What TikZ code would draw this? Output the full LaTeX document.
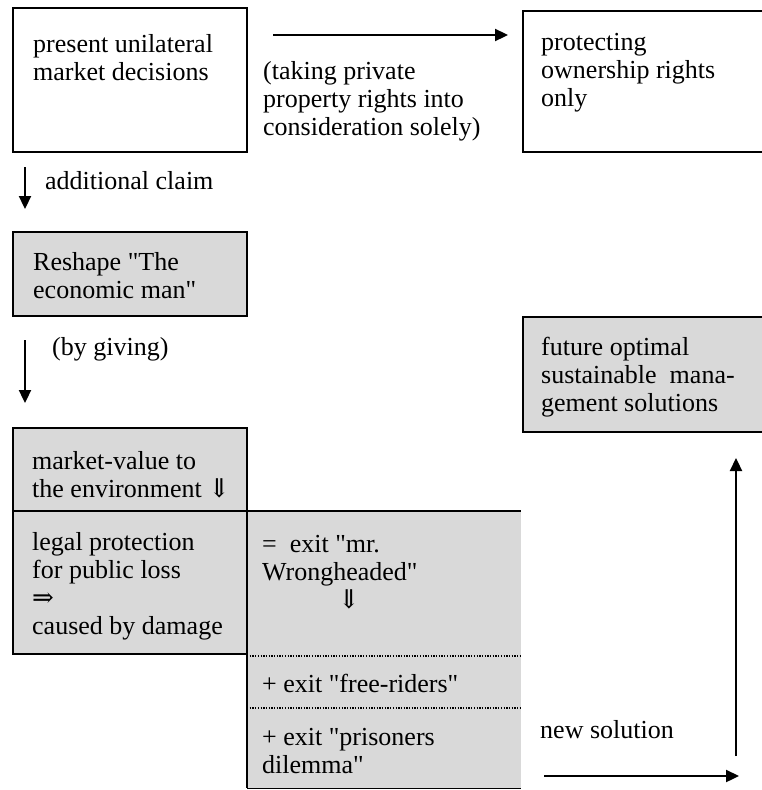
\documentclass[tikz,border=0pt]{standalone}
\usepackage{fontspec}
\setmainfont{Liberation Serif}
\newfontfamily\symf{DejaVu Serif}
\usetikzlibrary{arrows.meta}
\newcommand\fst{\rule{0pt}{20pt}}
\newcommand\qq{\textquotedbl}
\begin{document}
\begin{tikzpicture}[x=1pt,y=-1pt,
  txt/.style={anchor=north west,inner sep=0pt,align=left,font=\fontsize{26}{28}\selectfont},
  box/.style={draw=black,line width=2.5pt,anchor=north west,inner sep=0pt,outer sep=0pt},
  shaded/.style={fill=gray!30},
  arr/.style={line width=2.3pt,-{Triangle[length=13pt,width=12pt]}},
  dotline/.style={line width=1.3pt,dash pattern=on 1.3pt off 1.4pt}]
\useasboundingbox (0,0) rectangle (762,790);
\clip (0,0) rectangle (762,790);

% boxes
\node[box,minimum width=234pt,minimum height=144pt] (b1) at (13,8) {};
\node[box,minimum width=252pt,minimum height=141pt] (b2) at (523,11) {};
\node[box,shaded,minimum width=234pt,minimum height=84pt] (b3) at (13,232) {};
\node[box,shaded,minimum width=252pt,minimum height=115pt] (b4) at (523,317) {};
\node[anchor=north west,inner sep=0pt,outer sep=0pt,fill=gray!30,minimum width=274pt,minimum height=277pt] (rb) at (247,511) {};
\node[box,shaded,minimum width=234pt,minimum height=83pt] (mk) at (13,428) {};
\node[box,shaded,minimum width=234pt,minimum height=143pt] (lg) at (13,511) {};
\draw[line width=2.5pt] (lg.north east) -- (rb.north east);
\draw[line width=2.5pt] (rb.north west) -- (rb.south west);
\draw[line width=0.8pt] (rb.south west) -- (rb.south east);
\coordinate (d1a) at (247,656); \coordinate (d1b) at (521,656);
\coordinate (d2a) at (247,708); \coordinate (d2b) at (521,708);
\draw[dotline] (d1a) -- (d1b);
\draw[dotline] (d2a) -- (d2b);

% texts
\node[txt] (t1) at (33,32) {\fst present unilateral\\market decisions};
\node[txt] (t2) at (263,59) {\fst(taking private\\property rights into\\consideration solely)};
\node[txt] (t3) at (541,30) {\fst protecting\\ownership rights\\only};
\node[txt] (t4) at (45,169) {\fst additional claim};
\node[txt] (t5) at (33,250) {\fst Reshape \qq The\\economic man\qq};
\node[txt] (t6) at (52,335) {\fst(by giving)};
\node[txt] (t7) at (541,335) {\fst future optimal\\sustainable\ \ mana-\\gement solutions};
\node[txt] (t8) at (32,449) {\fst market-value to\\the environment {\symf ⇓}};
\node[txt] (t9) at (32,530) {\fst legal protection\\for public loss\\{\symf ⇒}\\caused by damage};
\node[txt] (t10) at (262,532) {\fst =\ \ exit \qq mr.\\Wrongheaded\qq\\\hspace*{76pt}{\symf ⇓}};
\node[txt] (t11) at (262,672) {\fst + exit \qq free-riders\qq};
\node[txt] (t12) at (262,725) {\fst + exit \qq prisoners\\dilemma\qq};
\node[txt] (t13) at (540,718) {\fst new solution};

% arrows
\coordinate (ta) at (273,35); \coordinate (tb) at (508,35);
\coordinate (a1a) at (25,167); \coordinate (a1b) at (25,209);
\coordinate (a2a) at (25,340); \coordinate (a2b) at (25,403);
\coordinate (ua) at (736,756); \coordinate (ub) at (736,458);
\coordinate (ba) at (544,776); \coordinate (bb) at (739,776);
\draw[arr] (ta) -- (tb);
\draw[arr] (a1a) -- (a1b);
\draw[arr] (a2a) -- (a2b);
\draw[arr] (ua) -- (ub);
\draw[arr] (ba) -- (bb);
\end{tikzpicture}
\end{document}
